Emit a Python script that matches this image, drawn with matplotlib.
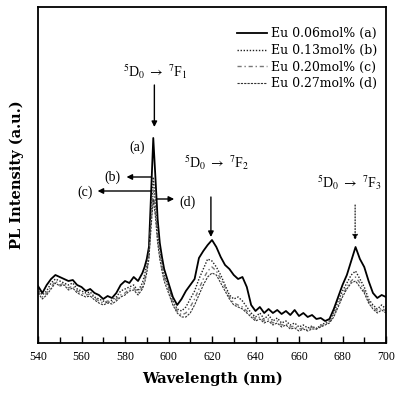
import matplotlib
matplotlib.use("Agg")
import matplotlib.pyplot as plt
from matplotlib.ticker import MultipleLocator

plt.rcParams['font.family'] = ['Liberation Serif', 'DejaVu Serif']
plt.rcParams['mathtext.fontset'] = 'stix'

wavelength = [540, 542, 544, 546, 548, 550, 552, 554, 556, 558, 560, 562, 564, 566, 568,
              570, 572, 574, 576, 578, 580, 582, 584, 586, 588,
              589, 590, 591, 592, 593, 594, 595, 596, 597, 598,
              600, 602, 604, 606, 608, 610, 612, 614, 616, 618, 620, 622, 624, 626, 628,
              630, 632, 634, 636, 638, 640, 642, 644, 646, 648, 650, 652, 654, 656, 658,
              660, 662, 664, 666, 668, 670, 672, 674, 676, 678, 680, 682, 684, 686, 688,
              690, 692, 694, 696, 698, 700]

eu_006 = [57, 50, 58, 64, 68, 66, 64, 62, 63, 58, 56, 52, 54, 50, 48,
          44, 47, 45, 50, 58, 62, 60, 66, 62, 70,
          76, 84, 96, 150, 205, 165, 124, 100, 86, 74,
          60, 46, 38, 44, 52, 58, 64, 85, 92, 98, 103, 96, 86, 78, 74,
          68, 64, 66, 56, 38, 32, 36, 30, 34, 30, 33, 29, 32, 28, 33,
          27, 30, 26, 28, 24, 25, 22, 24, 34, 46, 58, 68, 82, 96, 84,
          76, 62, 50, 45, 48, 46]

eu_013 = [55, 48, 52, 60, 64, 62, 60, 58, 60, 54, 52, 50, 51, 46, 44,
          42, 40, 43, 46, 52, 54, 56, 58, 52, 60,
          68, 78, 92, 130, 166, 140, 112, 92, 80, 68,
          56, 42, 34, 32, 36, 44, 52, 64, 74, 84, 82, 76, 68, 58, 48,
          44, 46, 42, 36, 30, 26, 30, 24, 28, 22, 25, 20, 22, 18, 20,
          16, 18, 15, 17, 14, 18, 20, 22, 30, 42, 52, 60, 68, 72, 64,
          56, 44, 38, 34, 38, 34]

eu_020 = [52, 46, 50, 56, 62, 58, 60, 55, 57, 52, 50, 48, 49, 45, 42,
          40, 42, 41, 44, 48, 50, 54, 55, 50, 56,
          64, 74, 88, 122, 153, 132, 106, 88, 76, 66,
          54, 40, 32, 28, 30, 36, 44, 54, 64, 72, 76, 72, 64, 56, 46,
          40, 38, 36, 32, 28, 24, 26, 22, 24, 20, 22, 18, 19, 16, 17,
          14, 15, 13, 16, 15, 17, 19, 21, 28, 38, 48, 56, 62, 66, 60,
          52, 42, 36, 32, 35, 32]

eu_027 = [50, 44, 48, 54, 60, 57, 58, 53, 55, 50, 48, 46, 47, 43, 40,
          38, 40, 39, 42, 46, 48, 52, 53, 48, 54,
          60, 70, 84, 116, 144, 126, 100, 84, 72, 62,
          50, 38, 30, 26, 26, 30, 38, 48, 58, 66, 70, 68, 60, 52, 44,
          38, 36, 34, 30, 26, 22, 24, 20, 22, 18, 20, 16, 18, 14, 15,
          12, 14, 12, 14, 14, 16, 18, 20, 26, 36, 46, 54, 60, 62, 56,
          50, 40, 34, 30, 33, 30]

labels = ['Eu 0.06mol% (a)', 'Eu 0.13mol% (b)', 'Eu 0.20mol% (c)', 'Eu 0.27mol% (d)']
x_ticks = [540, 560, 580, 600, 620, 640, 660, 680, 700]

fig = plt.figure(figsize=(3.97, 4.07), dpi=100)
ax = fig.add_axes([38/397, 1-343/407, 348/397, 336/407])

ax.plot(wavelength, eu_006, color='black', lw=1.3, ls='-', label=labels[0])
ax.plot(wavelength, eu_013, color='#222222', lw=1.0, ls=(0, (1, 1.2)), label=labels[1])
ax.plot(wavelength, eu_020, color='#777777', lw=1.0, ls=(0, (3, 2, 1, 2)), label=labels[2])
ax.plot(wavelength, eu_027, color='#333333', lw=0.8, ls=(0, (2, 1)), label=labels[3])

ax.set_xlim(540, 700)
ax.set_ylim(0, 336)
ax.set_xticks(x_ticks)
ax.set_xticklabels([str(t) for t in x_ticks])
ax.xaxis.set_minor_locator(MultipleLocator(10))
ax.tick_params(axis='x', which='both', direction='in', top=False, labelsize=8.5, pad=6)
ax.tick_params(axis='x', which='major', length=5, width=1)
ax.tick_params(axis='x', which='minor', length=4, width=1)
ax.set_yticks([])
for s in ax.spines.values():
    s.set_linewidth(1.3)

ax.set_xlabel('Wavelength (nm)', family='DejaVu Serif', fontweight='bold', fontsize=10.5, labelpad=6)
ax.set_ylabel('PL Intensity (a.u.)', family='DejaVu Serif', fontweight='bold', fontsize=10.5, labelpad=10)

leg = ax.legend(loc='upper right', bbox_to_anchor=(0.975, 0.94), frameon=False,
                prop={'family': 'DejaVu Serif', 'size': 9},
                handlelength=2.4, handletextpad=0.3, labelspacing=0.3,
                borderpad=0, borderaxespad=0)

ap = dict(arrowstyle='-|>', color='black', lw=1.0, mutation_scale=8, shrinkA=0, shrinkB=0)
fs = 10
ax.text(594, 271, r'$^{5}$D$_{0}$ $\rightarrow$ $^{7}$F$_{1}$', ha='center', va='center', fontsize=fs)
ax.annotate('', xy=(593.5, 216), xytext=(593.5, 258), arrowprops=ap)
ax.text(585.7, 196, '(a)', ha='center', va='center', fontsize=fs)
ax.annotate('', xy=(580.7, 166), xytext=(592.1, 166), arrowprops=ap)
ax.text(574.3, 166, '(b)', ha='center', va='center', fontsize=fs)
ax.annotate('', xy=(567.4, 152), xytext=(592.1, 152), arrowprops=ap)
ax.text(561.5, 151, '(c)', ha='center', va='center', fontsize=fs)
ax.annotate('', xy=(602.6, 144), xytext=(594.4, 144), arrowprops=ap)
ax.text(608.6, 141, '(d)', ha='center', va='center', fontsize=fs)

ax.text(622.3, 180, r'$^{5}$D$_{0}$ $\rightarrow$ $^{7}$F$_{2}$', ha='center', va='center', fontsize=fs)
ax.annotate('', xy=(619.5, 106), xytext=(619.5, 146), arrowprops=ap)

ax.text(683, 160, r'$^{5}$D$_{0}$ $\rightarrow$ $^{7}$F$_{3}$', ha='center', va='center', fontsize=fs)
apd = dict(arrowstyle='-|>', color='black', lw=0.8, ls=':', mutation_scale=8, shrinkA=0, shrinkB=0)
ax.annotate('', xy=(685.8, 103), xytext=(685.8, 138), arrowprops=apd)

fig.savefig('out.png', dpi=100)
